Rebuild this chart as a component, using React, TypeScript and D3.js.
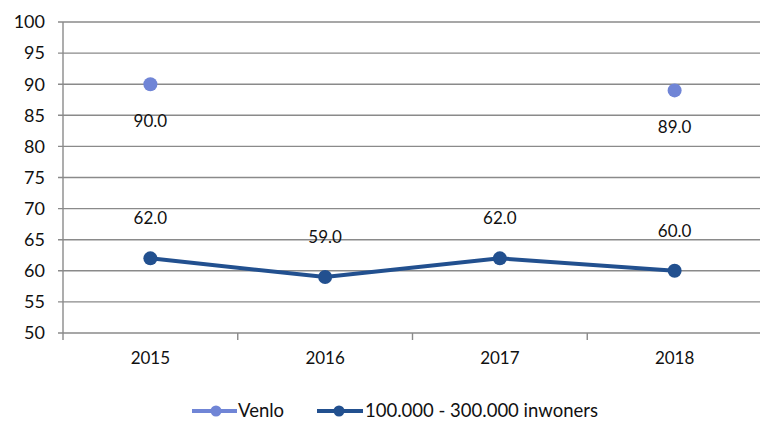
import React from "react";
import * as d3 from "d3";

const years = ["2015", "2016", "2017", "2018"];
const venlo: (number | null)[] = [90.0, null, null, 89.0];
const group: number[] = [62.0, 59.0, 62.0, 60.0];
const yTicks = [50, 55, 60, 65, 70, 75, 80, 85, 90, 95, 100];
const seriesNames = ["Venlo", "100.000 - 300.000 inwoners"];

const W = 760, H = 423;
const left = 63, right = 762, top = 22, bottom = 333;
const venloColor = "#7085d6";
const groupColor = "#22508f";
const font = "Lato, 'Open Sans', sans-serif";

export default function App() {
  const x = d3.scaleBand<string>().domain(years).range([left, right]);
  const y = d3.scaleLinear().domain([50, 100]).range([bottom, top]);
  const cx = (d: string) => (x(d) as number) + x.bandwidth() / 2;
  const line = d3.line<number>().x((_, i) => cx(years[i])).y((d) => y(d));
  const gridColor = "#8a8a8a";
  const ly = 411;
  return (
    <svg width={W} height={H} style={{ position: "absolute", left: 0, top: 0, background: "#fff" }}>
      {yTicks.map((t) => (
        <g key={t}>
          <line x1={left - 5} x2={right} y1={y(t)} y2={y(t)} stroke={gridColor} strokeWidth={1.4} />
          <text x={45} y={y(t)} dy="0.35em" textAnchor="end" fontFamily={font} fontSize={18} fill="#111">{t}</text>
        </g>
      ))}
      <line x1={left} x2={left} y1={top} y2={bottom} stroke={gridColor} strokeWidth={1.4} />
      {years.map((yr) => (
        <g key={yr}>
          <line x1={(x(yr) as number)} x2={(x(yr) as number)} y1={bottom} y2={bottom + 7} stroke={gridColor} strokeWidth={1.4} />
          <text x={cx(yr)} y={364} textAnchor="middle" fontFamily={font} fontSize={17} fill="#111">{yr}</text>
        </g>
      ))}
      <path d={line(group) || ""} fill="none" stroke={groupColor} strokeWidth={4} />
      {group.map((v, i) => (
        <g key={"g" + i}>
          <circle cx={cx(years[i])} cy={y(v)} r={7} fill={groupColor} />
          <text x={cx(years[i])} y={y(v) - 40} dy="0.35em" textAnchor="middle" fontFamily={font} fontSize={17} fill="#111">{v.toFixed(1)}</text>
        </g>
      ))}
      {venlo.map((v, i) =>
        v == null ? null : (
          <g key={"v" + i}>
            <circle cx={cx(years[i])} cy={y(v)} r={7} fill={venloColor} />
            <text x={cx(years[i])} y={y(v) + 37} dy="0.35em" textAnchor="middle" fontFamily={font} fontSize={17} fill="#111">{v.toFixed(1)}</text>
          </g>
        )
      )}
      <g>
        <line x1={192} x2={237} y1={ly} y2={ly} stroke={venloColor} strokeWidth={4} />
        <circle cx={216} cy={ly} r={5.5} fill={venloColor} />
        <text x={238} y={ly} dy="0.35em" fontFamily={font} fontSize={18.5} fill="#111">{seriesNames[0]}</text>
        <line x1={317} x2={363} y1={ly} y2={ly} stroke={groupColor} strokeWidth={4} />
        <circle cx={339} cy={ly} r={5.5} fill={groupColor} />
        <text x={365} y={ly} dy="0.35em" fontFamily={font} fontSize={18.5} fill="#111">{seriesNames[1]}</text>
      </g>
    </svg>
  );
}
